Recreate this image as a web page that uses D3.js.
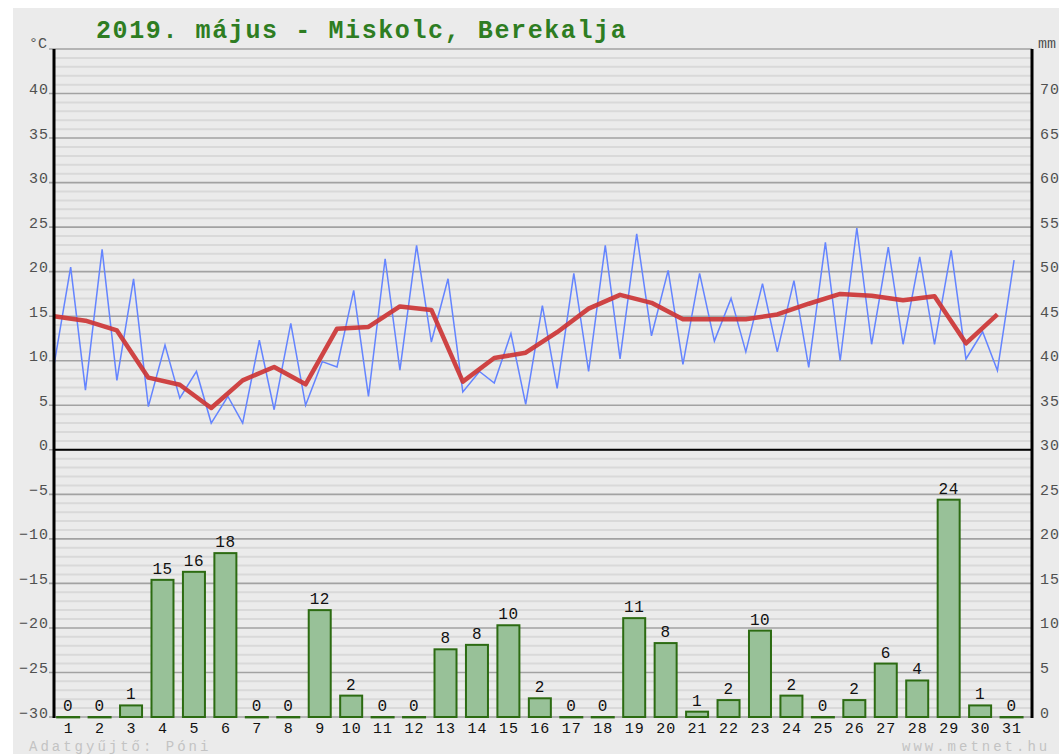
<!DOCTYPE html>
<html><head><meta charset="utf-8">
<script src="https://cdn.jsdelivr.net/npm/d3@7"></script>
<style>
body{margin:0;background:#fff}
svg{display:block}
text{font-family:"Liberation Mono","DejaVu Sans Mono",monospace}
</style>
</head><body>
<svg id="c" width="1059" height="754"></svg>
<script>
// ---- data ----
const titleText = "2019. május - Miskolc, Berekalja";
const days = [1,2,3,4,5,6,7,8,9,10,11,12,13,14,15,16,17,18,19,20,21,22,23,24,25,26,27,28,29,30,31];
// half-daily temperature trace: night min, day max, night min, ... (°C)
const tempTrace = [
  9.5, 20.5, 6.7, 22.5, 7.8, 19.2, 4.85, 11.75, 5.8, 8.8,
  3.0, 6.0, 3.0, 12.3, 4.5, 14.2, 5.0, 9.9, 9.3, 17.9,
  6.0, 21.45, 8.95, 22.95, 12.1, 19.2, 6.5, 8.8, 7.5, 13.05,
  5.1, 16.2, 6.9, 19.8, 8.8, 22.95, 10.2, 24.25, 12.8, 20.15,
  9.6, 19.8, 12.2, 17.0, 11.0, 18.65, 11.0, 19.0, 9.25, 23.3,
  10.0, 24.9, 11.85, 22.75, 11.85, 21.65, 11.85, 22.4, 10.2, 13.25,
  8.9, 21.3
];
// daily mean temperature (°C)
const dailyMean = [
  15.0, 14.5, 13.4, 8.1, 7.3, 4.7, 7.8, 9.3, 7.35, 13.6,
  13.8, 16.1, 15.7, 7.65, 10.3, 10.9, 13.2, 15.85, 17.4, 16.5,
  14.65, 14.65, 14.65, 15.2, 16.4, 17.5, 17.3, 16.8, 17.25, 11.95,
  15.2
];
// daily precipitation (mm)
const precip = [
  0, 0, 1.3, 15.4, 16.3, 18.4, 0, 0, 12.0, 2.4,
  0, 0, 7.6, 8.1, 10.3, 2.1, 0, 0, 11.1, 8.3,
  0.6, 1.9, 9.7, 2.4, 0, 1.9, 6.0, 4.1, 24.4, 1.3,
  0
];
const leftTicks = [-30,-25,-20,-15,-10,-5,0,5,10,15,20,25,30,35,40];
const rightTicks = [0,5,10,15,20,25,30,35,40,45,50,55,60,65,70];
const leftUnit = "°C", rightUnit = "mm";
const creditLeft = "Adatgyűjtő: Póni", creditRight = "www.metnet.hu";

// ---- layout ----
const svg = d3.select("#c");
const L = 54, R = 1032, T = 49, B = 717;
const x = d3.scaleLinear().domain([0.55, 31.65]).range([L, R]);
const y = d3.scaleLinear().domain([-30, 45]).range([B, T]);
const y2 = d3.scaleLinear().domain([0, 75]).range([B, T]);

svg.append("rect").attr("x", 13).attr("y", 8).attr("width", 1059 - 13).attr("height", 754 - 8).attr("fill", "#ebebeb");

// grid
const minor = d3.range(-30, 46, 1).filter(v => v % 5 !== 0);
const major = d3.range(-30, 46, 5);
svg.append("g").selectAll("line").data(minor).join("line")
  .attr("x1", L).attr("x2", R).attr("y1", d => y(d)).attr("y2", d => y(d))
  .attr("stroke", "#d9d9d9").attr("stroke-width", 2);
svg.append("g").selectAll("line").data(major).join("line")
  .attr("x1", L - 5).attr("x2", R).attr("y1", d => y(d)).attr("y2", d => y(d))
  .attr("stroke", "#a2a2a2").attr("stroke-width", 1.6);

// precipitation bars
const bw = 22;
const bars = svg.append("g");
bars.selectAll("rect").data(precip).join("rect")
  .attr("x", (d, i) => x(days[i]) - bw / 2)
  .attr("width", bw)
  .attr("y", d => y2(d))
  .attr("height", d => Math.max(0.4, y2(0) - y2(d)))
  .attr("fill", d => d > 0 ? "#98c198" : "none")
  .attr("stroke", "#2c6b12").attr("stroke-width", 2);
bars.selectAll("text").data(precip).join("text")
  .attr("x", (d, i) => x(days[i]))
  .attr("y", d => y2(d) - 6)
  .attr("text-anchor", "middle")
  .attr("font-size", 16).attr("letter-spacing", 0.5)
  .attr("fill", "#111")
  .text(d => Math.round(d));

// zero line
svg.append("line").attr("x1", L).attr("x2", R).attr("y1", y(0)).attr("y2", y(0))
  .attr("stroke", "#000").attr("stroke-width", 2);

// temperature trace (blue)
const tracePos = (i) => i % 2 === 0 ? i / 2 + 0.55 : (i + 1) / 2 + 0.08;
svg.append("path")
  .datum(tempTrace)
  .attr("fill", "none").attr("stroke", "#6484ff").attr("stroke-width", 1.5)
  .attr("stroke-linejoin", "miter")
  .attr("d", d3.line().x((d, i) => x(tracePos(i))).y(d => y(d)));

// daily mean (red)
svg.append("path")
  .datum(dailyMean)
  .attr("fill", "none").attr("stroke", "#cc3535").attr("stroke-width", 4.5)
  .attr("stroke-opacity", 0.92)
  .attr("stroke-linejoin", "round")
  .attr("d", d3.line().x((d, i) => x(i + 0.55)).y(d => y(d)));

// axes lines
svg.append("line").attr("x1", L).attr("x2", L).attr("y1", T).attr("y2", B + 1)
  .attr("stroke", "#000").attr("stroke-width", 3);
svg.append("line").attr("x1", R).attr("x2", R).attr("y1", T).attr("y2", B + 1)
  .attr("stroke", "#000").attr("stroke-width", 3);

// left axis labels
const gl = svg.append("g").attr("transform", `translate(${L - 5},0)`)
  .call(d3.axisLeft(y).tickValues(leftTicks).tickSize(0).tickPadding(0).tickFormat(d3.format("d")));
gl.select(".domain").remove();
gl.selectAll("text").attr("dy", 0).attr("font-size", 15).attr("letter-spacing", 1)
  .attr("fill", "#505050").attr("font-family", "Liberation Mono");

// right axis labels
const gr = svg.append("g").attr("transform", `translate(${R + 8},0)`)
  .call(d3.axisRight(y2).tickValues(rightTicks).tickSize(0).tickPadding(0).tickFormat(d3.format("d")));
gr.select(".domain").remove();
gr.selectAll("text").attr("dy", 0).attr("font-size", 15).attr("letter-spacing", 1)
  .attr("fill", "#505050").attr("font-family", "Liberation Mono");

// x axis labels
const gx = svg.append("g").attr("transform", `translate(0,${B})`)
  .call(d3.axisBottom(x).tickValues(days).tickSize(0).tickFormat(d3.format("d")));
gx.select(".domain").remove();
gx.selectAll("text").attr("y", 16).attr("dy", 0).attr("font-size", 15).attr("letter-spacing", 1)
  .attr("fill", "#111").attr("font-family", "Liberation Mono");

// units
svg.append("text").attr("x", 29).attr("y", 48).attr("font-size", 15).attr("fill", "#505050").text(leftUnit);
svg.append("text").attr("x", 1038).attr("y", 48).attr("font-size", 15).attr("fill", "#505050").text(rightUnit);

// title
svg.append("text").attr("x", 96).attr("y", 38)
  .attr("font-size", 25).attr("font-weight", "bold").attr("letter-spacing", 1.6)
  .attr("fill", "#2e7d22").text(titleText);

// credits
svg.append("text").attr("x", 29).attr("y", 751).attr("font-size", 14).attr("letter-spacing", 3)
  .attr("fill", "#c3c3c3").text(creditLeft);
svg.append("text").attr("x", 902).attr("y", 751).attr("font-size", 14).attr("letter-spacing", 3)
  .attr("fill", "#c3c3c3").text(creditRight);
</script>
</body></html>
